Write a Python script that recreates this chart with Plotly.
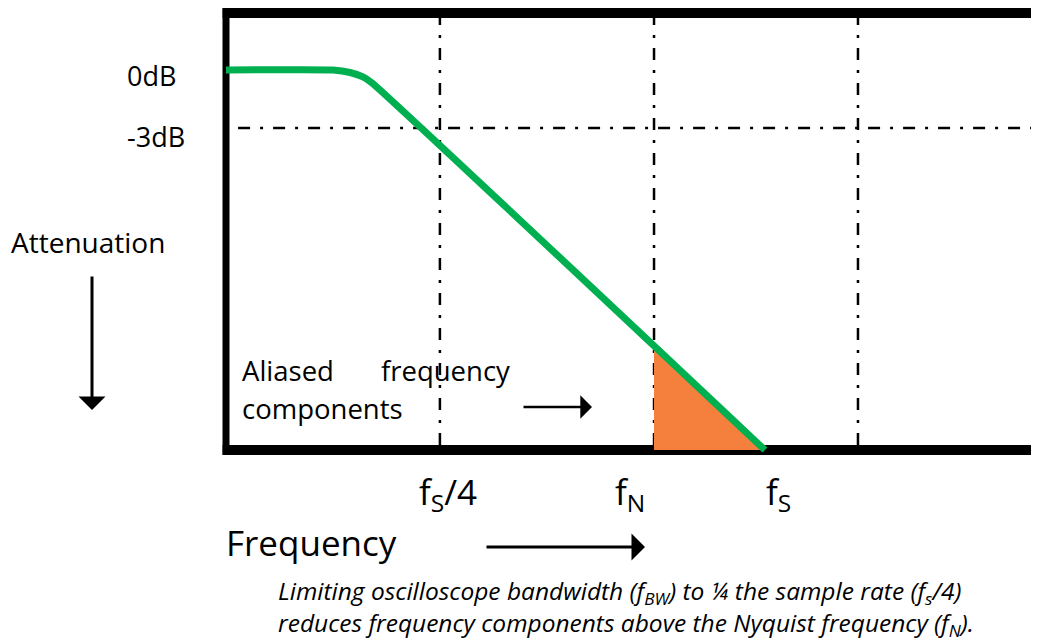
import numpy as np
import plotly.graph_objects as go

# ---------------- data (frequency in grid divisions, attenuation in dB) ----------------
curve_freq = [0.0, 0.505, 0.585, 0.646, 0.689, 2.542]
curve_atten = [0.0, 0.0, -0.13, -0.36, -0.67, -19.66]

grid_freq = [1.009, 2.019, 2.981]          # vertical dash-dot lines
grid_atten = [-3.0]                        # horizontal dash-dot line (-3 dB)

f_nyquist = 2.019                          # start of aliased region
box_left, box_bottom, box_top = 0.0, -19.66, 2.95

tick_labels = ["f<sub>S</sub>/4", "f<sub>N</sub>", "f<sub>S</sub>"]
tick_freq = [1.047, 1.906, 2.604]
db_labels = ["0dB", "-3dB"]
db_values = [0.0, -3.0]

caption_lines = [
    "Limiting oscilloscope bandwidth (f<sub>BW</sub>) to ¼ the sample rate (f<sub>s</sub>/4)",
    "reduces frequency components above the Nyquist frequency (f<sub>N</sub>).",
]

# ---------------- scale (pixel geometry of the page) ----------------
W, H = 1039, 642
PAGE_OFFSET = 8            # figure div sits 8px in from the page corner
PX_X0, PX_PER_DIV = 226.0, 212.0
PX_Y0, PX_PER_DB = 70.0, 19.33


def px2x(p):
    return (p - PX_X0) / PX_PER_DIV


def px2y(p):
    return (PX_Y0 - p) / PX_PER_DB


x_range = [px2x(PAGE_OFFSET), px2x(PAGE_OFFSET + W)]
y_range = [px2y(PAGE_OFFSET + H), px2y(PAGE_OFFSET)]

FONT = "Open Sans"
GREEN = "#00B050"
ORANGE = "#F5803E"
DASH = "12px,10px,3px,10px"

fig = go.Figure()

# aliased region (under the curve, from f_N to where the curve meets the floor)
f_end = curve_freq[-1]
a_at_fn = float(np.interp(f_nyquist, curve_freq, curve_atten))
fig.add_trace(go.Scatter(
    x=[f_nyquist, f_nyquist, f_end, f_nyquist],
    y=[a_at_fn, box_bottom, box_bottom, a_at_fn],
    mode="lines", fill="toself", fillcolor=ORANGE,
    line=dict(width=0, color=ORANGE), hoverinfo="skip", showlegend=False))

# response curve
fig.add_trace(go.Scatter(
    x=curve_freq, y=curve_atten, mode="lines",
    line=dict(color=GREEN, width=7, shape="spline", smoothing=0.4),
    hoverinfo="skip", showlegend=False))

shapes = []
for gx in grid_freq:
    shapes.append(dict(type="line", xref="x", yref="y", x0=gx, x1=gx,
                       y0=box_top, y1=box_bottom, layer="below",
                       line=dict(color="black", width=2.5, dash=DASH)))
for gy in grid_atten:
    shapes.append(dict(type="line", xref="x", yref="y", x0=0.057, x1=x_range[1] + 0.1,
                       y0=gy, y1=gy, layer="below",
                       line=dict(color="black", width=2.5, dash=DASH)))
# box border (right side beyond the canvas)
shapes.append(dict(type="line", xref="x", yref="y", x0=box_left, x1=box_left,
                   y0=box_top + 0.25, y1=box_bottom - 0.25, layer="below",
                   line=dict(color="black", width=7)))
shapes.append(dict(type="line", xref="x", yref="y", x0=box_left - 0.016, x1=x_range[1] + 0.1,
                   y0=box_top, y1=box_top, layer="below",
                   line=dict(color="black", width=10)))
shapes.append(dict(type="line", xref="x", yref="y", x0=box_left - 0.016, x1=x_range[1] + 0.1,
                   y0=box_bottom, y1=box_bottom, layer="below",
                   line=dict(color="black", width=10)))

ann = []


def text(t, xp, yp, size, anchor="left", italic=False):
    ann.append(dict(text=t, x=px2x(xp), y=px2y(yp), xref="x", yref="y",
                    xanchor=anchor, yanchor="middle", showarrow=False,
                    align="left",
                    font=dict(family=FONT, size=size, color="black",
                              style="italic" if italic else "normal")))


# dB labels
for lab, v in zip(db_labels, db_values):
    ann.append(dict(text=lab, x=px2x(125), y=v + (-0.3 if v == 0 else -0.45), xref="x", yref="y",
                    xanchor="left", yanchor="middle", showarrow=False,
                    font=dict(family=FONT, size=27, color="black")))

# frequency tick labels
for lab, fx in zip(tick_labels, tick_freq):
    ann.append(dict(text=lab, x=fx, y=px2y(493), xref="x", yref="y",
                    xanchor="center", yanchor="middle", showarrow=False,
                    font=dict(family=FONT, size=35, color="black")))

text("Attenuation", 9, 242, 28)
text("Aliased", 240, 370, 27.5)
text("frequency", 379, 370, 27.5)
text("components", 240, 408, 27.5)
text("Frequency", 224, 542, 35)
text("<br>".join(caption_lines), 276, 608, 24.5, italic=True)


def arrow(x_tail, y_tail, x_head, y_head, width=3):
    ann.append(dict(x=px2x(x_head), y=px2y(y_head), ax=px2x(x_tail), ay=px2y(y_tail),
                    xref="x", yref="y", axref="x", ayref="y", text="",
                    showarrow=True, arrowhead=1, arrowsize=1.5, arrowwidth=width,
                    arrowcolor="black", standoff=0, startstandoff=0))


arrow(92, 275, 92, 410)
arrow(522, 407, 592, 407, width=2.6)
arrow(485, 547, 645, 547)

fig.update_layout(
    width=W, height=H, margin=dict(l=0, r=0, t=0, b=0),
    paper_bgcolor="white", plot_bgcolor="white",
    xaxis=dict(range=x_range, visible=False, fixedrange=True),
    yaxis=dict(range=y_range, visible=False, fixedrange=True),
    shapes=shapes, annotations=ann, showlegend=False,
)

fig.write_html("out.html")
